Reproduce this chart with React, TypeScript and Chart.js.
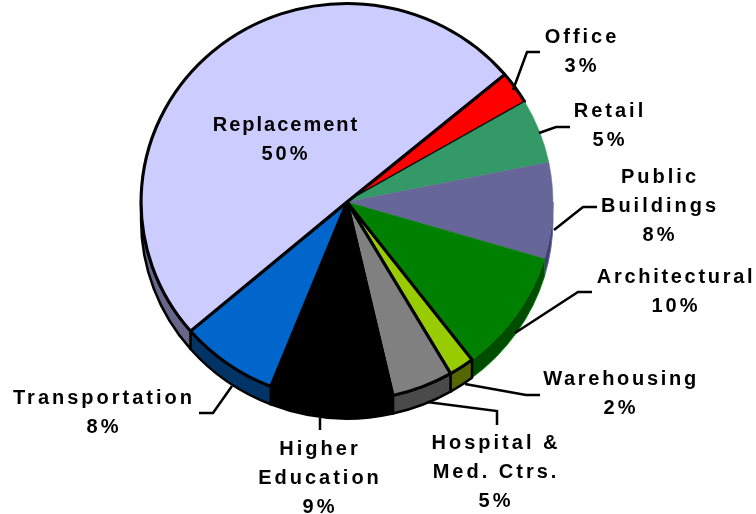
import React, { useEffect, useRef } from "react";
import { Chart, registerables } from "chart.js";

Chart.register(...registerables);

const categories = ["Office", "Retail", "Public Buildings", "Architectural", "Warehousing", "Hospital & Med. Ctrs.", "Higher Education", "Transportation", "Replacement"];
const values = [2.7, 5.2, 7.8, 10, 2, 4.8, 9.6, 7.7, 50.1];
const percentLabels = ["3%", "5%", "8%", "10%", "2%", "5%", "9%", "8%", "50%"];
const labelLines = [["Office"], ["Retail"], ["Public", "Buildings"], ["Architectural"], ["Warehousing"], ["Hospital &", "Med. Ctrs."], ["Higher", "Education"], ["Transportation"], ["Replacement"]];
const topColors = ["#ff0000", "#339966", "#666699", "#008000", "#99cc00", "#808080", "#000000", "#0066cc", "#ccccff"];
const sideColors = ["#800000", "#1c5c3c", "#3f3f70", "#004d00", "#556600", "#4a4a4a", "#000000", "#003366", "#666688"];
const edgeColors = ["#000000", "#339966", "#666699", "#008000", "#000000", "#000000", "#000000", "#000000", "#000000"];
const edgeWidths = [3, 0.5, 0.5, 0.5, 3, 3, 3, 3, 3];
const sideEdgeWidths = [2.5, 1, 1, 1, 2.5, 2.5, 2.5, 2.5, 2.5];
const labelSpacing = [3, 3, 3, 2.7, 2.7, 3, 3, 3, 2];

const X_STRETCH = 1.0375;
const DEPTH = 18;
const labelPlaces = [
  { x: 582, y: 37 }, { x: 610, y: 111 }, { x: 660, y: 177 }, { x: 676, y: 277 }, { x: 621, y: 379 },
  { x: 496, y: 443 }, { x: 320, y: 449 }, { x: 104, y: 398 }, { x: 286, y: 125 },
];
const leaders: number[][][] = [
  [[513, 90], [527, 52], [540, 52]],
  [[539, 133], [556, 127], [570, 127]],
  [[554, 230], [583, 207], [597, 207]],
  [[515, 333], [578, 292], [592, 292]],
  [[465, 384], [526, 395], [540, 395]],
  [[427, 402], [497, 411], [497, 425]],
  [[320, 418], [320, 430]],
  [[232, 386], [213, 413], [199, 413]],
];

const pie3d = {
  id: "pie3d",
  beforeDatasetsDraw(chart: any) {
    const { ctx } = chart;
    const arcs = chart.getDatasetMeta(0).data;
    const cx = arcs[0].x, cy = arcs[0].y, r = arcs[0].outerRadius;
    const TAU = Math.PI * 2;
    ctx.save();
    ctx.lineJoin = "round";
    arcs.forEach((arc: any, i: number) => {
      for (const shift of [0, TAU]) {
        const a0 = Math.max(arc.startAngle - shift, 0);
        const a1 = Math.min(arc.endAngle - shift, Math.PI);
        if (a1 <= a0) continue;
        ctx.beginPath();
        const ex = (a: number) => cx + r * X_STRETCH * Math.cos(a);
        const ey = (a: number) => cy + r * Math.sin(a);
        ctx.ellipse(cx, cy, r * X_STRETCH, r, 0, a0, a1);
        ctx.lineTo(ex(a1), ey(a1) + DEPTH);
        ctx.ellipse(cx, cy + DEPTH, r * X_STRETCH, r, 0, a1, a0, true);
        ctx.closePath();
        ctx.fillStyle = sideColors[i];
        ctx.fill();
        ctx.strokeStyle = edgeColors[i];
        ctx.lineWidth = sideEdgeWidths[i];
        ctx.stroke();
      }
    });
    ctx.restore();
    ctx.save();
    ctx.translate(cx, cy);
    ctx.scale(X_STRETCH, 1);
    ctx.translate(-cx, -cy);
  },
  afterDatasetsDraw(chart: any) {
    const { ctx } = chart;
    ctx.restore();
    ctx.save();
    ctx.strokeStyle = "#000000";
    ctx.lineWidth = 2.5;
    ctx.lineJoin = "miter";
    leaders.forEach((pts) => {
      ctx.beginPath();
      pts.forEach(([x, y], k) => (k ? ctx.lineTo(x, y) : ctx.moveTo(x, y)));
      ctx.stroke();
    });
    ctx.fillStyle = "#000000";
    ctx.font = 'bold 20px "Liberation Sans", Arial, sans-serif';
    ctx.textAlign = "center";
    ctx.textBaseline = "middle";
    labelPlaces.forEach((p, i) => {
      const lines = labelLines[i];
      lines.forEach((t, k) => {
        (ctx as any).letterSpacing = `${labelSpacing[i]}px`;
        ctx.fillText(t, p.x, p.y + k * 29);
      });
      (ctx as any).letterSpacing = "3px";
      ctx.fillText(percentLabels[i], p.x, p.y + lines.length * 29);
    });
    ctx.restore();
  },
};

export default function App() {
  const ref = useRef<HTMLCanvasElement>(null);
  useEffect(() => {
    const chart = new Chart(ref.current!, {
      type: "pie",
      data: {
        labels: categories,
        datasets: [{
          data: values,
          backgroundColor: topColors,
          borderColor: edgeColors,
          borderWidth: edgeWidths,
          clip: false,
        } as any],
      },
      options: {
        responsive: false,
        animation: false,
        rotation: 50,
        layout: { padding: { left: 147, right: 209, top: 2, bottom: 112 } },
        plugins: { legend: { display: false }, tooltip: { enabled: false } },
      },
      plugins: [pie3d],
    });
    return () => chart.destroy();
  }, []);
  return (
    <div style={{ position: "absolute", left: 0, top: 0 }}>
      <canvas ref={ref} width={756} height={514} style={{ display: "block" }} />
    </div>
  );
}
